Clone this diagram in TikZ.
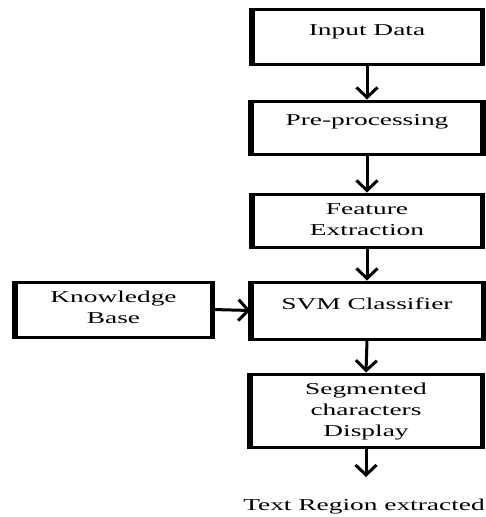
\documentclass[tikz,border=0pt]{standalone}
\usepackage{fontspec}
\setmainfont{Liberation Serif}
\newfontfamily\widefont[FakeStretch=1.65]{Liberation Serif}
\usetikzlibrary{arrows.meta}
\begin{document}
\begin{tikzpicture}[x=1pt,y=-1pt,
  boxst/.style={draw, line width=3pt, inner sep=0pt,
    append after command={
      (\tikzlastnode.north west) edge[line width=5.5pt,-] (\tikzlastnode.south west)
      (\tikzlastnode.north east) edge[line width=5.5pt,-] (\tikzlastnode.south east)}},
  txt/.style={font=\widefont\fontsize{16.6pt}{21pt}\selectfont, align=center, anchor=base, inner sep=0pt},
  arr/.style={line width=3pt, -{Straight Barb[length=10pt,width=21pt,line width=3pt]}}
]
\useasboundingbox (0,0) rectangle (486,517);

\node[boxst, minimum width=228pt, minimum height=55pt] (inp) at (367,36.5) {};
\node[txt] (inpT) at (367,35) {Input Data};

\node[boxst, minimum width=229pt, minimum height=53pt] (pre) at (367,127.5) {};
\node[txt] (preT) at (367,125) {Pre-processing};

\node[boxst, minimum width=228pt, minimum height=53pt] (fe) at (367,220.5) {};
\node[txt] (feT) at (367,235) {Feature\\Extraction};

\node[boxst, minimum width=230pt, minimum height=57pt] (svm) at (367,310.5) {};
\node[txt] (svmT) at (367,309) {SVM Classifier};

\node[boxst, minimum width=195pt, minimum height=55pt] (kb) at (113.5,309.5) {};
\node[txt] (kbT) at (113.5,323) {Knowledge\\Base};

\node[boxst, minimum width=230pt, minimum height=73pt] (seg) at (366,410.5) {};
\node[txt] (segT) at (366,436) {Segmented\\characters\\Display};

\node[txt] (out) at (364,510) {Text Region extracted};
\coordinate (outTop) at (366,477);

\draw[arr] (inp.south) -- (pre.north);
\draw[arr] (pre.south) -- (fe.north);
\draw[arr] (fe.south) -- (svm.north);
\draw[arr] (svm.south) -- (seg.north);
\draw[arr] (seg.south) -- (outTop);
\draw[arr] (kb.east) -- (svm.west);
\end{tikzpicture}
\end{document}
